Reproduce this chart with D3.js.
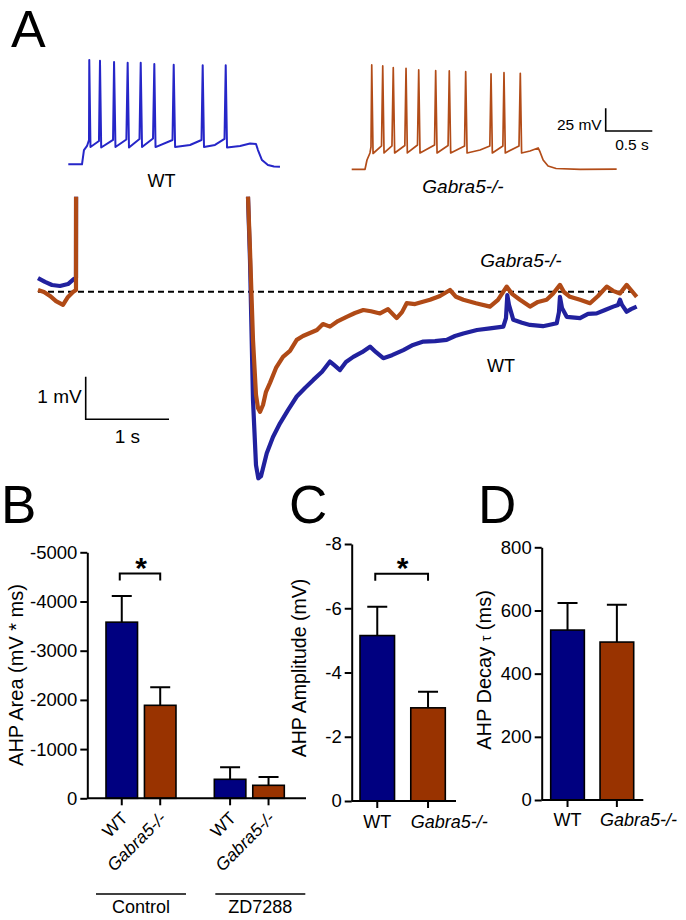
<!DOCTYPE html>
<html><head><meta charset="utf-8">
<script src="https://cdn.jsdelivr.net/npm/d3@7"></script>
<style>
body{margin:0;background:#fff}
svg{display:block}
text{font-family:"Liberation Sans",Arial,Helvetica,sans-serif;fill:#000}
</style></head>
<body><svg id="c" width="686" height="920"></svg>
<script>
// ---------------- DATA ----------------
const genotypes = ["WT", "Gabra5-/-"];
const conditions = ["Control", "ZD7288"];
// Panel B: AHP area (mV*ms), mean and SEM, [condition][genotype]
const areaMean = [[-3580, -1890], [-386, -264]];
const areaSem  = [[-532, -366], [-244, -169]];
const areaTicks = [0, -1000, -2000, -3000, -4000, -5000];
// Panel C: AHP amplitude (mV)
const ampMean = [-5.15, -2.9];
const ampSem  = [-0.9, -0.5];
const ampTicks = [0, -2, -4, -6, -8];
// Panel D: AHP decay tau (ms)
const decayMean = [538, 500];
const decaySem  = [86, 118];
const decayTicks = [0, 200, 400, 600, 800];

// Panel A top: firing traces [time s, mV]
const wtFiring = [[0,-65],[0.147,-65],[0.168,-49.3],[0.201,-44.8],[0.222,-38.2],
 [0.225,50],[0.238,-45.9],[0.329,-39.3],[0.34,49.1],[0.353,-46.5],[0.48,-38.2],
 [0.491,47.7],[0.506,-46],[0.623,-37.7],[0.637,46.9],[0.651,-46.5],[0.764,-37.1],
 [0.777,46.9],[0.791,-46],[0.909,-36.6],[0.923,45.5],[0.936,-46],[1.118,-38.2],
 [1.131,44.7],[1.146,-46],[1.306,-43.7],[1.429,-38.2],[1.442,44],[1.456,-46],
 [1.574,-43.7],[1.676,-37.1],[1.689,44],[1.703,-46.5],[1.843,-44.8],[1.95,-42.1],
 [2.014,-42.6],[2.035,-49.3],[2.078,-60.3],[2.142,-65.8],[2.207,-67.4],[2.271,-67.6]];
const koFiring = [[0,-65],[0.143,-65],[0.164,-54.8],[0.196,-47],[0.207,-40.4],
 [0.215,49.9],[0.229,-47.6],[0.32,-39.3],[0.333,48.8],[0.347,-47],[0.432,-39.3],
 [0.446,46.9],[0.461,-47],[0.57,-38.8],[0.583,46.2],[0.597,-47],[0.706,-38.2],
 [0.719,44.4],[0.733,-47],[0.889,-38.2],[0.901,43.6],[0.916,-47],[1.034,-38.8],
 [1.047,43.3],[1.062,-47],[1.211,-39.3],[1.223,42.5],[1.238,-47],[1.377,-43.7],
 [1.482,-39.3],[1.495,40],[1.509,-47],[1.622,-39.3],[1.634,41.4],[1.648,-47],
 [1.795,-39.3],[1.809,40.7],[1.823,-47],[1.913,-44.8],[2.0,-41.5],[2.021,-45.9],
 [2.054,-54.8],[2.107,-61.4],[2.193,-64.1],[2.451,-65],[2.843,-64.7]];

// Panel A bottom: AHP traces [time s, mV relative to baseline]
const wtAhpPre = [[0,0.32],[0.084,0.23],[0.168,0.157],[0.264,0.134],[0.36,0.18],[0.432,0.3],[0.456,0.32],[0.457,2.23]];
const koAhpPre = [[0,0.04],[0.072,-0.007],[0.144,-0.1],[0.216,-0.22],[0.3,-0.31],[0.36,-0.124],[0.42,-0.007],[0.456,0.04],[0.457,2.23]];
const wtAhpPost = [[2.521,2.23],[2.545,0.74],[2.581,-2.54],[2.617,-4.07],[2.645,-4.38],[2.677,-4.33],
 [2.746,-3.79],[2.821,-3.41],[2.905,-3.09],[3.001,-2.78],[3.106,-2.46],[3.205,-2.26],[3.305,-2.07],
 [3.41,-1.88],[3.505,-1.64],[3.553,-1.72],[3.625,-1.84],[3.697,-1.65],[3.785,-1.53],[3.89,-1.42],
 [3.986,-1.29],[4.058,-1.42],[4.145,-1.56],[4.25,-1.49],[4.386,-1.37],[4.502,-1.25],[4.626,-1.17],
 [4.766,-1.16],[4.906,-1.13],[5.006,-1.04],[5.106,-0.98],[5.27,-0.9],[5.426,-0.86],[5.586,-0.82],
 [5.618,-0.62],[5.634,-0.08],[5.654,-0.31],[5.706,-0.66],[5.81,-0.73],[5.906,-0.78],[6.062,-0.81],
 [6.227,-0.74],[6.254,-0.48],[6.266,-0.12],[6.29,-0.38],[6.347,-0.59],[6.507,-0.62],[6.603,-0.52],
 [6.707,-0.51],[6.807,-0.43],[6.906,-0.35],[6.963,-0.31],[6.987,-0.19],[7.011,-0.31],[7.067,-0.47],
 [7.119,-0.41],[7.187,-0.35]];
const koAhpPost = [[2.521,2.23],[2.545,0.98],[2.581,-1.13],[2.617,-2.42],[2.641,-2.73],[2.665,-2.82],
 [2.701,-2.66],[2.737,-2.35],[2.785,-2.14],[2.857,-1.79],[2.941,-1.53],[3.025,-1.39],[3.106,-1.13],
 [3.181,-1.04],[3.265,-0.97],[3.349,-0.9],[3.421,-0.76],[3.505,-0.82],[3.601,-0.69],[3.705,-0.59],
 [3.805,-0.5],[3.905,-0.43],[3.998,-0.46],[4.106,-0.51],[4.202,-0.41],[4.306,-0.62],[4.37,-0.48],
 [4.426,-0.27],[4.526,-0.29],[4.61,-0.24],[4.706,-0.19],[4.826,-0.1],[4.946,0.04],[5.018,-0.12],
 [5.106,-0.19],[5.258,-0.27],[5.426,-0.35],[5.522,-0.19],[5.626,0.12],[5.69,-0.05],[5.786,-0.19],
 [5.906,-0.35],[6.002,-0.24],[6.106,-0.19],[6.182,-0.05],[6.266,0.16],[6.314,-0.007],[6.386,-0.12],
 [6.507,-0.19],[6.627,-0.27],[6.723,-0.1],[6.827,0.12],[6.903,0.02],[6.987,-0.04],[7.067,0.16],
 [7.119,0.04],[7.187,-0.12]];
const ahpBaselineSpan = [0, 7.19];

// ---------------- STYLE ----------------
const C = {
  wtTrace: "#2626c8", koTrace: "#b24c18",
  wtAhp: "#21219e", koAhp: "#b04a16",
  wtBar: "#000080", koBar: "#993300"
};
const svg = d3.select("#c");
svg.append("rect").attr("width",686).attr("height",920).attr("fill","#fff");

function label(x, y, txt, size, opts={}) {
  const t = svg.append("text").attr("x", x).attr("y", y).text(txt)
    .style("font-size", size + "px");
  if (opts.anchor) t.attr("text-anchor", opts.anchor);
  if (opts.italic) t.style("font-style", "italic");
  if (opts.bold) t.style("font-weight", "bold");
  if (opts.rotate) t.attr("transform", `rotate(${opts.rotate},${x},${y})`);
  return t;
}

// Panel letters
label(11, 47, "A", 52);
label(1, 523, "B", 53);
label(289, 523, "C", 53);
label(478, 523, "D", 53);

// ---------------- PANEL A: firing ----------------
const topXw = d3.scaleLinear([0, 1], [68.3, 161.5]);
const topXk = d3.scaleLinear([0, 1], [351.7, 444.9]);
const topYw = d3.scaleLinear([-65, -40], [164.3, 141.6]);
const topYk = d3.scaleLinear([-65, -40], [169.3, 146.6]);

svg.append("path").datum(wtFiring)
  .attr("d", d3.line().x(d => topXw(d[0])).y(d => topYw(d[1])))
  .attr("fill", "none").attr("stroke", C.wtTrace).attr("stroke-width", 2).attr("stroke-linejoin", "round");
svg.append("path").datum(koFiring)
  .attr("d", d3.line().x(d => topXk(d[0])).y(d => topYk(d[1])))
  .attr("fill", "none").attr("stroke", C.koTrace).attr("stroke-width", 1.7).attr("stroke-linejoin", "round");

label(161.5, 186.5, "WT", 18, {anchor: "middle"});
label(463, 193, "Gabra5-/-", 19, {anchor: "middle", italic: true});

// top scale bar 25 mV / 0.5 s
{
  const x0 = 605.7, y0 = 131;
  const h = topYk(-65) - topYk(-40), w = topXk(0.5) - topXk(0);
  svg.append("path").attr("d", `M${x0},${y0 - h}V${y0}H${x0 + w}`)
    .attr("fill", "none").attr("stroke", "#000").attr("stroke-width", 1.6);
  label(x0 - 4, y0 - 1, "25 mV", 15.5, {anchor: "end"});
  label(x0 + w / 2 + 3, y0 + 19, "0.5 s", 15.5, {anchor: "middle"});
}

// ---------------- PANEL A: AHP ----------------
const ahpX = d3.scaleLinear([0, 1], [38, 121.3]);
const ahpY = d3.scaleLinear([0, 1], [291.7, 249.1]);
const ahpLine = d3.line().x(d => ahpX(d[0])).y(d => ahpY(d[1]));

svg.append("line").attr("x1", ahpX(ahpBaselineSpan[0])).attr("x2", ahpX(ahpBaselineSpan[1]))
  .attr("y1", ahpY(0)).attr("y2", ahpY(0))
  .attr("stroke", "#000").attr("stroke-width", 2).attr("stroke-dasharray", "6,4");

[[wtAhpPre, C.wtAhp], [wtAhpPost, C.wtAhp], [koAhpPre, C.koAhp], [koAhpPost, C.koAhp]].forEach(([d, col]) => {
  svg.append("path").datum(d).attr("d", ahpLine)
    .attr("fill", "none").attr("stroke", col).attr("stroke-width", 4.2)
    .attr("stroke-linejoin", "round").attr("stroke-linecap", "butt");
});

label(521, 267, "Gabra5-/-", 19, {anchor: "middle", italic: true});
label(501, 372, "WT", 18, {anchor: "middle"});

// AHP scale bar 1 mV / 1 s
{
  const x0 = 85.7, y0 = 419.3;
  const h = ahpY(0) - ahpY(1), w = ahpX(1) - ahpX(0);
  svg.append("path").attr("d", `M${x0},${y0 - h}V${y0}H${x0 + w}`)
    .attr("fill", "none").attr("stroke", "#000").attr("stroke-width", 1.6);
  label(x0 - 4, y0 - 16, "1 mV", 19, {anchor: "end"});
  label(x0 + w / 2, y0 + 24, "1 s", 19, {anchor: "middle"});
}

// ---------------- bar chart helper ----------------
function yAxis(scale, x, ticks) {
  const g = svg.append("g").attr("transform", `translate(${x},0)`)
    .call(d3.axisLeft(scale).tickValues(ticks).tickFormat(d => String(d))
      .tickSize(7).tickSizeOuter(0).tickPadding(3));
  g.select(".domain").attr("stroke-width", 2);
  g.selectAll(".tick line").attr("stroke-width", 2);
  g.selectAll(".tick text").style("font-size", "18.5px")
    .style("font-family", '"Liberation Sans",Arial,sans-serif');
  return g;
}
function bars(xs, ys, means, sems, colors) {
  const bw = xs.bandwidth();
  genotypes.forEach((gname, i) => {
    const x = xs(gname), cx = x + bw / 2;
    const yTop = ys(means[i] + sems[i]);
    svg.append("path").attr("d", `M${cx},${ys(means[i])}V${yTop}M${cx - 10},${yTop}H${cx + 10}`)
      .attr("stroke", "#000").attr("stroke-width", 2).attr("fill", "none");
    svg.append("rect").attr("x", x).attr("width", bw)
      .attr("y", Math.min(ys(means[i]), ys(0))).attr("height", Math.abs(ys(0) - ys(means[i])))
      .attr("fill", colors[i]).attr("stroke", "#000").attr("stroke-width", 1.6);
  });
}
function xBase(y, x1, x2) {
  svg.append("line").attr("x1", x1).attr("x2", x2).attr("y1", y).attr("y2", y)
    .attr("stroke", "#000").attr("stroke-width", 2);
}
function xTicks(xs, y) {
  const bw = xs.bandwidth();
  genotypes.forEach(g => {
    const cx = xs(g) + bw / 2;
    svg.append("line").attr("x1", cx).attr("x2", cx).attr("y1", y).attr("y2", y + 7)
      .attr("stroke", "#000").attr("stroke-width", 2);
  });
}
function sigBracket(xs, yBracket) {
  const bw = xs.bandwidth();
  const a = xs(genotypes[0]) + bw / 2, b = xs(genotypes[1]) + bw / 2;
  svg.append("path").attr("d", `M${a - 2},${yBracket + 7}V${yBracket}H${b}V${yBracket + 7}`)
    .attr("fill", "none").attr("stroke", "#000").attr("stroke-width", 2);
  label((a + b) / 2, yBracket + 4, "*", 30, {anchor: "middle", bold: true});
}
const barColors = [C.wtBar, C.koBar];

// ---------------- PANEL B ----------------
{
  const yB = d3.scaleLinear([0, -5000], [798.3, 552.3]);
  const xGroup = d3.scaleBand().domain(conditions).range([106, 284.3]).paddingInner(0.354);
  let xs0 = null;
  conditions.forEach((c, ci) => {
    const off = xGroup(c);
    const xs = d3.scaleBand().domain(genotypes)
      .range([off, off + xGroup.bandwidth()]).paddingInner(0.18);
    if (ci === 0) xs0 = xs;
    bars(xs, yB, areaMean[ci], areaSem[ci], barColors);
    xTicks(xs, yB(0));
    genotypes.forEach((g, gi) => {
      const cx = xs(g) + xs.bandwidth() / 2;
      label(cx + 7, yB(0) + 21, g, 17.5, {anchor: "end", rotate: -45, italic: gi === 1});
    });
    const shift = ci === 0 ? 0 : 11;
    const gc = off + xGroup.bandwidth() / 2 + shift;
    svg.append("line").attr("x1", gc - 45).attr("x2", gc + 45).attr("y1", 894).attr("y2", 894)
      .attr("stroke", "#000").attr("stroke-width", 1.6);
    label(gc, 913, c, 18, {anchor: "middle"});
  });
  xBase(yB(0), 87.3, 306);
  yAxis(yB, 87.3, areaTicks);
  sigBracket(xs0, 573.5);
  label(23, 675, "AHP Area  (mV * ms)", 20, {anchor: "middle", rotate: -90});
}

// ---------------- PANEL C ----------------
{
  const yC = d3.scaleLinear([0, -8], [801, 544]);
  const xs = d3.scaleBand().domain(genotypes).range([360, 445.3]).paddingInner(0.32);
  bars(xs, yC, ampMean, ampSem, barColors);
  xBase(yC(0), 351.7, 456);
  xTicks(xs, yC(0));
  yAxis(yC, 351.7, ampTicks);
  sigBracket(xs, 573.7);
  label(xs("WT") + xs.bandwidth() / 2, 828, "WT", 18, {anchor: "middle"});
  label(xs("Gabra5-/-"), 828, "Gabra5-/-", 18, {anchor: "start", italic: true});
  label(306, 668, "AHP Amplitude (mV)", 19.5, {anchor: "middle", rotate: -90});
}

// ---------------- PANEL D ----------------
{
  const yD = d3.scaleLinear([0, 800], [800, 547.3]);
  const xs = d3.scaleBand().domain(genotypes).range([550.7, 633.7]).paddingInner(0.318);
  bars(xs, yD, decayMean, decaySem, barColors);
  xBase(yD(0), 541.7, 643.3);
  xTicks(xs, yD(0));
  yAxis(yD, 541.7, decayTicks);
  label(xs("WT") + xs.bandwidth() / 2, 826, "WT", 18, {anchor: "middle"});
  label(xs("Gabra5-/-"), 826, "Gabra5-/-", 18, {anchor: "start", italic: true});
  const t = svg.append("text").attr("x", 491).attr("y", 670).attr("text-anchor", "middle")
    .attr("transform", "rotate(-90,491,670)").style("font-size", "20px");
  t.append("tspan").text("AHP Decay ");
  t.append("tspan").text("τ").style("font-size", "14px");
  t.append("tspan").text(" (ms)");
}
</script></body></html>
